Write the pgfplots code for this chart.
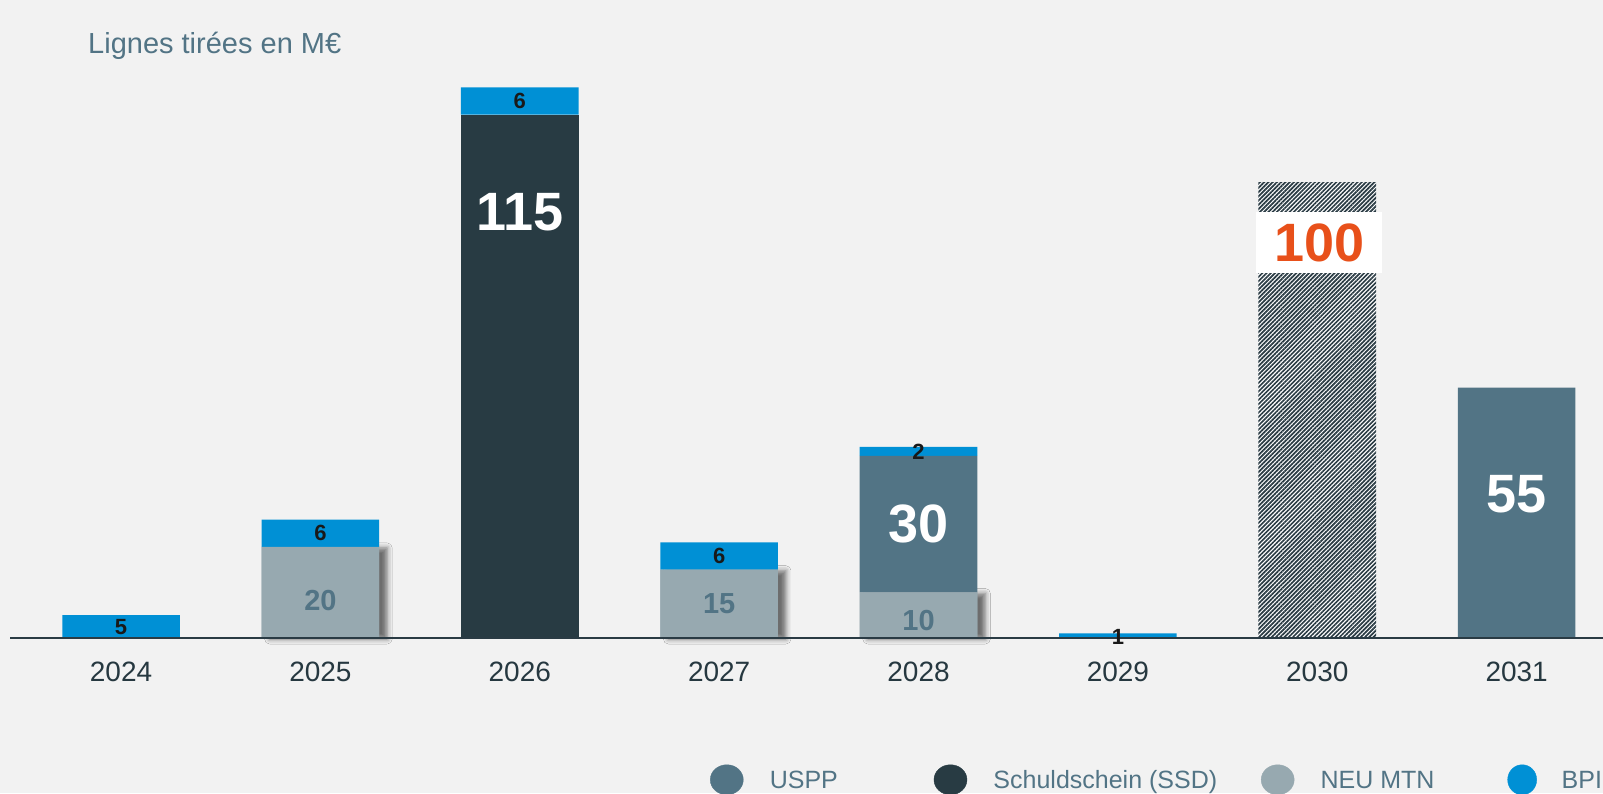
\documentclass[border=0pt]{standalone}
\usepackage{pgfplots}
\pgfplotsset{compat=1.18}
\usepackage{fontspec}
\setmainfont{Liberation Sans}
\usetikzlibrary{patterns.meta,shadows.blur}
\definecolor{bg}{HTML}{F2F2F2}
\definecolor{uspp}{HTML}{527485}
\definecolor{ssd}{HTML}{283B43}
\definecolor{neu}{HTML}{97A9B0}
\definecolor{bpi}{HTML}{0090D5}
\definecolor{slate}{HTML}{527485}
\definecolor{yeartxt}{HTML}{263840}
\definecolor{orng}{HTML}{E8501A}
\definecolor{axisc}{HTML}{2A3B44}

\pgfplotstableread{
x neu uspp ssd new bpi
0 0 0 0 0 5
1 20 0 0 0 6
2 0 0 115 0 6
3 15 0 0 0 6
4 10 30 0 0 2
5 0 0 0 0 1
6 0 0 0 100 0
7 0 55 0 0 0
}\data
\pgfplotstableread{
x neu
1 20
3 15
4 10
}\neudata

\newcommand{\legtxt}[2]{\raisebox{0pt}[20pt][6pt]{\makebox[#1][l]{#2}}}

\begin{document}
\begin{tikzpicture}
\fill[bg] (0,0) rectangle (1603pt,793pt);
\useasboundingbox (0,0) rectangle (1603pt,793pt);
\pgfplotsset{
  common/.style={
    at={(10.2pt,155pt)}, anchor=south west,
    scale only axis, width=1592.8pt, height=638pt,
    xmin=-0.556, xmax=7.433, ymin=0, ymax=140.2,
    clip=false,
  }
}
% shadow layer for NEU MTN bars
\begin{axis}[common, hide axis, ybar, bar width=117.6pt]
\addplot[fill=neu, draw=none,
  blur shadow={shadow xshift=8pt, shadow yshift=-1pt, shadow blur radius=5pt, shadow opacity=55}]
  table[x=x, y=neu] {\neudata};
\end{axis}
% main axis
\begin{axis}[common, axis on top,
  ybar stacked, bar width=117.6pt,
  axis x line*=bottom, axis y line=none,
  x axis line style={color=axisc, line width=2pt},
  xtick={0,...,7},
  xticklabels={2024,2025,2026,2027,2028,2029,2030,2031},
  major tick length=0pt,
  xticklabel style={anchor=center, yshift=-34pt, text=yeartxt, font=\fontsize{28}{32}\selectfont},
  legend columns=4,
  legend cell align=left,
  legend style={draw=none, fill=none, inner sep=0pt, outer sep=0pt,
    column sep=0pt, row sep=0pt,
    nodes={inner sep=0pt, outer sep=0pt, text=slate, font=\fontsize{25}{30}\selectfont},
    at={(0.4394,-0.246)}, anchor=south west},
]
\addplot[fill=neu, draw=none, forget plot] table[x=x, y=neu] {\data};
\addplot[fill=uspp, draw=none, forget plot] table[x=x, y=uspp] {\data};
\addplot[fill=ssd, draw=none, forget plot] table[x=x, y=ssd] {\data};
\addplot[fill=white, draw=none, forget plot,
  postaction={pattern={Lines[angle=45, distance=3pt, line width=1.7pt]}, pattern color=axisc}]
  table[x=x, y=new] {\data};
\addplot[fill=bpi, draw=none, forget plot] table[x=x, y=bpi] {\data};

\addlegendimage{legend image code/.code={\fill[uspp] (16.5pt,-1pt) ellipse (16.5pt and 15pt); \path[draw=none,fill=none] (0pt,-1pt) -- (59.5pt,-1pt);}}
\addlegendentry{\legtxt{164pt}{USPP}}
\addlegendimage{legend image code/.code={\fill[ssd] (16.5pt,-1pt) ellipse (16.5pt and 15pt); \path[draw=none,fill=none] (0pt,-1pt) -- (59.5pt,-1pt);}}
\addlegendentry{\legtxt{267.5pt}{Schuldschein (SSD)}}
\addlegendimage{legend image code/.code={\fill[neu] (16.5pt,-1pt) ellipse (16.5pt and 15pt); \path[draw=none,fill=none] (0pt,-1pt) -- (59.5pt,-1pt);}}
\addlegendentry{\legtxt{185pt}{NEU MTN}}
\addlegendimage{legend image code/.code={\fill[bpi] (16.5pt,-1pt) ellipse (14.5pt and 15pt); \path[draw=none,fill=none] (0pt,-1pt) -- (56pt,-1pt);}}
\addlegendentry{\legtxt{45pt}{BPI}}
\end{axis}
% labels layer
\begin{axis}[common, hide axis]
\tikzset{bpil/.style={font=\fontsize{22}{24}\selectfont\bfseries, text=black!90, inner sep=0pt},
         neul/.style={font=\fontsize{29}{32}\selectfont\bfseries, text=slate, inner sep=0pt},
         bigl/.style={font=\fontsize{54}{58}\selectfont\bfseries, text=white, inner sep=0pt}}
\node[bpil] at (axis cs:0,2.5) {5};
\node[bpil] at (axis cs:1,23) {6};
\node[bpil] at (axis cs:2,118) {6};
\node[bpil] at (axis cs:3,18) {6};
\node[bpil] at (axis cs:4,41) {2};
\node[bpil] at (axis cs:5,0.2) {1};
\node[neul] at (axis cs:1,8.3) {20};
\node[neul] at (axis cs:3,7.5) {15};
\node[neul] at (axis cs:4,3.8) {10};
\node[bigl] at (axis cs:4,25) {30};
\node[bigl] at (axis cs:7,31.5) {55};
\node[bigl] at (axis cs:2,93.5) {115};
\node[fill=white, minimum width=126pt, minimum height=61pt, inner sep=0pt,
      font=\fontsize{54}{58}\selectfont\bfseries, text=orng] at (axis cs:6.01,86.9) {100};
\end{axis}
\node[anchor=base west, inner sep=0pt, text=slate, font=\fontsize{29}{34}\selectfont] at (88pt,739pt) {Lignes tirées en M€};
\end{tikzpicture}
\end{document}
